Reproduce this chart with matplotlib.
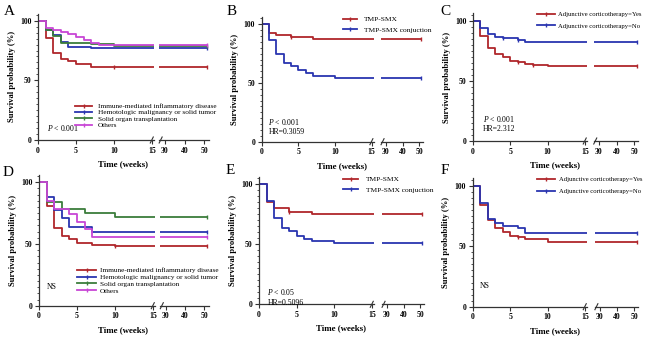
import numpy as np
import matplotlib.pyplot as plt
from matplotlib.lines import Line2D

plt.rcParams['font.family'] = ['Liberation Serif', 'DejaVu Serif']
plt.rcParams['mathtext.fontset'] = 'custom'
plt.rcParams['mathtext.rm'] = 'Liberation Serif'
plt.rcParams['mathtext.it'] = 'Liberation Serif:italic'

RED, BLUE, GREEN, PURPLE = '#b0262b', '#2a35b0', '#3b7d3b', '#c846d6'
END = 51.5

# ---- data (weeks, survival %) ----
groups = ['Immune-mediated inflammatory disease', 'Hemotologic malignancy or solid tumor',
          'Solid organ transplantation', 'Others']
tmp_labels = ['TMP-SMX', 'TMP-SMX conjuction']
cort_labels = ['Adjunctive corticotherapy=Yes', 'Adjunctive corticotherapy=No']

# A
a_imm_t = [0, 1, 2, 3, 4, 5, 7, 10]
a_imm_s = [100, 85.8, 72.6, 68, 66, 63.4, 61.5, 61]
a_hem_t = [0, 1, 2, 3, 4, 7]
a_hem_s = [100, 92, 88, 82.5, 78, 77]
a_sol_t = [0, 1, 2, 3, 7, 10]
a_sol_s = [100, 92, 87.5, 81.5, 80.5, 79]
a_oth_t = [0, 1, 2, 3, 4, 5, 6, 7, 8]
a_oth_s = [100, 94, 92, 90.5, 88.5, 86, 83.5, 81.5, 80]
# B
b_tmp_t = [0, 1, 2, 4, 7]
b_tmp_s = [100, 93, 91, 89.5, 87.5]
b_con_t = [0, 1, 2, 3, 4, 5, 6, 7, 10]
b_con_s = [100, 86.6, 74.7, 67.3, 64.8, 61.1, 58.2, 56, 54.5]
# C
c_yes_t = [0, 1, 2, 3, 4, 5, 6, 7, 8, 10]
c_yes_s = [100, 87.5, 77.6, 72.3, 69.5, 66.8, 65.4, 64, 63.2, 62]
c_no_t = [0, 1, 2, 3, 4, 6, 7]
c_no_s = [100, 93.6, 88.6, 86.7, 85.3, 83.9, 82.5]
# D
d_imm_t = [0, 1, 2, 3, 4, 5, 7, 10]
d_imm_s = [100, 81, 62.7, 56.7, 53.8, 50.6, 49.2, 48]
d_hem_t = [0, 1, 2, 3, 4, 7]
d_hem_s = [100, 88.3, 77.6, 70.8, 63.5, 59.5]
d_sol_t = [0, 1, 3, 6, 10]
d_sol_s = [100, 83.8, 78.1, 75.4, 72.1]
d_oth_t = [0, 1, 2, 4, 5, 6, 7]
d_oth_s = [100, 85, 78, 74.5, 68, 62, 55.5]
# E
e_tmp_t = [0, 1, 2, 4, 7]
e_tmp_s = [100, 85.6, 80.6, 77.2, 75]
e_con_t = [0, 1, 2, 3, 4, 5, 6, 7, 10]
e_con_s = [100, 86, 72.2, 63.9, 61.4, 57.2, 54.4, 52.8, 50.8]
# F
f_yes_t = [0, 1, 2, 3, 4, 5, 6, 7, 10]
f_yes_s = [100, 84, 71.6, 64.7, 62, 58.7, 57.3, 55.6, 53.7]
f_no_t = [0, 1, 2, 3, 4, 6, 7]
f_no_s = [100, 85.4, 72.5, 68.9, 66.9, 64.7, 61.2]

W, H = 650, 337
fig = plt.figure(figsize=(6.5, 3.37), dpi=100)


def box(l, t, w, h):
    return [l / W, 1 - (t + h) / H, w / W, h / H]


def fline(x1, y1, x2, y2, **kw):
    fig.add_artist(Line2D([x1 / W, x2 / W], [1 - y1 / H, 1 - y2 / H], **kw))


def panel(geom, series):
    x0, x15, x30, x50, y100, y0 = geom
    lpw = (x15 - x0) / 15
    rpw = (x50 - x30) / 20
    ys = (y0 - y100) / 100
    top = 106
    axL = fig.add_axes(box(x0, y0 - top * ys, 15.3 * lpw, top * ys))
    axR = fig.add_axes(box(x30 - 3 * rpw, y0 - top * ys, 25.5 * rpw, top * ys))
    axL.set_xlim(0, 15.3)
    axR.set_xlim(27, 52.5)
    axL.set_xticks([0, 5, 10, 15])
    axR.set_xticks([30, 40, 50])
    axL.set_yticks([0, 50, 100])
    axL.set_yticks(np.arange(0, 106, 5), minor=True)
    for ax in (axL, axR):
        ax.set_ylim(0, top)
        ax.patch.set_alpha(0)
        for s in ('top', 'right'):
            ax.spines[s].set_visible(False)
        for s in ('left', 'bottom'):
            ax.spines[s].set_linewidth(0.9)
            ax.spines[s].set_color('#333333')
        ax.tick_params(which='major', length=2.8, width=0.8, pad=2, labelsize=5.6, color='#333333')
        ax.tick_params(which='minor', length=1.5, width=0.6, color='#333333')
        for lab in ax.get_xticklabels() + ax.get_yticklabels():
            lab.set_fontweight('bold')
    axR.spines['left'].set_visible(False)
    axR.tick_params(axis='y', which='both', left=False, labelleft=False)
    for t, s, cens, color in series:
        tt = t + [END]
        ss = s + [s[-1]]
        for ax in (axL, axR):
            lo, hi = ax.get_xlim()
            cx = [c for c in cens if lo <= c <= hi]
            cv = [s[np.searchsorted(t, c, side='right') - 1] for c in cx]
            ax.step(tt, ss, where='post', color=color, lw=1.3)
            ax.plot(cx, cv, ls='none', marker='|', ms=3.5, mew=1.0, color=color)
    # break marks
    xe = x0 + 15.3 * lpw
    xs = x30 - 3 * rpw
    fline(xe - 4, y0 + 3, xe - 1, y0 - 3, color='#333333', lw=0.8)
    fline(xs, y0 + 3, xs + 3, y0 - 3, color='#333333', lw=0.8)
    axL.set_ylabel('Survival probability (%)', fontsize=6.2, fontweight='bold', labelpad=3)
    fig.text(((x0 + x50 + 4) / 2) / W, 1 - (y0 + 24) / H, 'Time (weeks)', fontsize=6.4,
             fontweight='bold', ha='center', va='center')
    return axL, axR


def legend(labels, colors, x, y, fs, hl, htp, ls):
    handles = [Line2D([], [], color=c, lw=1.3, marker='|', ms=3, mew=1.0) for c in colors]
    fig.legend(handles, labels, loc='upper left', bbox_to_anchor=(x / W, 1 - y / H),
               frameon=False, borderpad=0, borderaxespad=0, fontsize=fs, handlelength=hl,
               handletextpad=htp, labelspacing=ls, numpoints=1)


def note(ax, x, y, lines):
    ax.text(x, y, lines, fontsize=5.6, va='center', ha='left', linespacing=1.3)


cols4 = [RED, BLUE, GREEN, PURPLE]

axA, _ = panel((38, 152, 165, 204, 20.7, 140),
               [(a_imm_t, a_imm_s, [10, END], RED), (a_hem_t, a_hem_s, [END], BLUE),
                (a_sol_t, a_sol_s, [END], GREEN), (a_oth_t, a_oth_s, [END], PURPLE)])
note(axA, 1.2, 10, r'$\it{P}$ < 0.001')
legend(groups, cols4, 75, 103, 5.2, 2.4, 0.8, 0.05)

axB, _ = panel((261.7, 371.7, 386, 419, 24.3, 141.7),
               [(b_tmp_t, b_tmp_s, [4, END], RED), (b_con_t, b_con_s, [END], BLUE)])
note(axB, 0.9, 13, r'$\it{P}$ < 0.001' + '\nHR=0.3059')
legend(tmp_labels, [RED, BLUE], 343.3, 16, 5.4, 1.8, 0.9, 0.6)

axC, _ = panel((473, 585, 599, 634, 20.7, 141),
               [(c_yes_t, c_yes_s, [6, 8, END], RED), (c_no_t, c_no_s, [4, 6, END], BLUE)])
note(axC, 1.3, 14.5, r'$\it{P}$ < 0.001' + '\nHR=2.312')
legend(cort_labels, [RED, BLUE], 536.7, 11.5, 4.8, 2.7, 0.5, 0.9)

axD, _ = panel((39, 153, 166, 204, 182.3, 305.7),
               [(d_imm_t, d_imm_s, [10, END], RED), (d_hem_t, d_hem_s, [END], BLUE),
                (d_sol_t, d_sol_s, [END], GREEN), (d_oth_t, d_oth_s, [END], PURPLE)])
note(axD, 1.0, 15, 'NS')
legend(groups, cols4, 77.3, 267.3, 5.2, 2.6, 0.55, 0.1)

axE, _ = panel((259, 372, 387, 420, 184.3, 304.3),
               [(e_tmp_t, e_tmp_s, [4, END], RED), (e_con_t, e_con_s, [END], BLUE)])
note(axE, 1.1, 6.4, r'$\it{P}$ < 0.05' + '\nHR=0.5096')
legend(tmp_labels, [RED, BLUE], 343.3, 176, 5.4, 2.0, 1.0, 0.6)

axF, _ = panel((472.7, 585, 600, 634, 185.7, 306.7),
               [(f_yes_t, f_yes_s, [6, END], RED), (f_no_t, f_no_s, [END], BLUE)])
note(axF, 1.0, 17, 'NS')
legend(cort_labels, [RED, BLUE], 537.3, 176.5, 4.8, 2.7, 0.5, 0.9)

for letter, x, y in [('A', 4, 15), ('B', 227, 15), ('C', 440, 15),
                     ('D', 3, 176), ('E', 226, 174), ('F', 441, 174)]:
    fig.text(x / W, 1 - y / H, letter, fontsize=11, va='baseline', ha='left')

plt.savefig('out.png', dpi=100)
